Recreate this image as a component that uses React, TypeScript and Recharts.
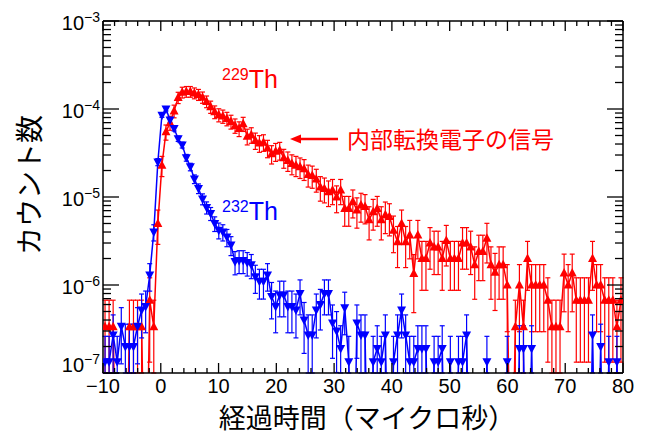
import { LineChart, Line, XAxis, YAxis, ErrorBar } from 'recharts'

const X_MIN = -10
const X_MAX = 80
const Y_MIN = 1e-7
const Y_MAX = 1e-3
const BIN_COUNT = 128
const BIN_WIDTH = (X_MAX - X_MIN) / BIN_COUNT
const UNIT = 1e-7
const FLOOR = 1e-9

// 229Th counts per bin, in units of 1e-7 (0 = empty bin)
const th229 = [
  3.36, 3.36, 3.36, 0, 0, 0, 3.36, 3.36, 3.36, 3.36,
  0, 6.7, 3.36, 50, 230, 550, 700, 950, 1350, 1550,
  1580, 1580, 1520, 1460, 1360, 1220, 1060, 930, 860, 830,
  780, 720, 650, 600, 680, 490, 510, 440, 410, 420,
  360, 310, 330, 340, 280, 260, 240, 230, 220, 210,
  180, 175, 160, 130, 125, 115, 120, 100, 120, 74,
  74, 89, 71, 81, 78, 55, 68, 74, 55, 63,
  60, 42, 31, 50, 31, 37, 13.5, 37, 20, 20,
  30, 27, 27, 20, 32, 20, 20, 20, 30, 30,
  27, 17, 24, 24, 34, 17, 14, 17, 17, 10,
  0, 3.36, 10, 3.36, 20, 10, 10, 10, 10, 6.7,
  3.36, 3.36, 3.36, 13.7, 10, 13.7, 6.7, 6.7, 6.7, 6.7,
  20, 10, 10, 6.7, 6.7, 6.7, 3.36, 6.7,
]

// 232Th counts per bin, in units of 1e-7 (0 = empty bin)
const th232 = [
  1.34, 1.34, 2.7, 1.34, 3.4, 2.0, 2.0, 2.0, 3.4, 5.2,
  5.7, 13, 40, 250, 850, 1000, 750, 600, 460, 390,
  280, 220, 160, 125, 95, 76, 65, 50, 42, 40,
  35, 28.5, 18.5, 19, 19, 18, 17, 12.4, 11, 11,
  13, 7.4, 5.7, 7.7, 7.7, 5.7, 5.7, 5.2, 8, 4,
  2.7, 2.7, 5.2, 6, 8, 8, 3.7, 3, 1.9, 5.5,
  1.34, 0, 3.7, 2.7, 2.7, 0, 1.34, 1.9, 1.34, 2.7,
  0, 1.34, 2.7, 5.2, 2.7, 1.34, 1.34, 1.9, 1.9, 1.9,
  0, 1.34, 1.34, 1.9, 0, 1.34, 0, 1.34, 1.34, 2.7,
  0, 0, 0, 0, 1.34, 0, 0, 0, 0, 1.34,
  0, 0, 1.9, 1.9, 0, 1.9, 0, 0, 0, 0,
  0, 0, 0, 0, 0, 0, 0, 0, 0, 0,
  2.7, 0, 2.0, 0, 1.34, 0, 1.34, 0,
]

const X_TICKS = [
  -10, -8, -6, -4, -2, 0, 2, 4, 6, 8, 10, 12, 14, 16, 18, 20, 22, 24, 26, 28,
  30, 32, 34, 36, 38, 40, 42, 44, 46, 48, 50, 52, 54, 56, 58, 60, 62, 64, 66,
  68, 70, 72, 74, 76, 78, 80,
]

const Y_TICKS = [
  1e-7, 2e-7, 3e-7, 4e-7, 5e-7, 6e-7, 7e-7, 8e-7, 9e-7,
  1e-6, 2e-6, 3e-6, 4e-6, 5e-6, 6e-6, 7e-6, 8e-6, 9e-6,
  1e-5, 2e-5, 3e-5, 4e-5, 5e-5, 6e-5, 7e-5, 8e-5, 9e-5,
  1e-4, 2e-4, 3e-4, 4e-4, 5e-4, 6e-4, 7e-4, 8e-4, 9e-4,
  1e-3,
]

// error bar size seen at the one-count level, and how it grows with the value
const TH229_ERR = { ref: 3.36e-7, err: 3.36e-7, power: 0.68 }
const TH232_ERR = { ref: 1.34e-7, err: 1.27e-7, power: 0.555 }

const RED = '#ff0000'
const BLUE = '#0000ff'
const FONT = '"Liberation Sans", Arial, sans-serif'
const JP_FONT = '"Noto Sans CJK JP", sans-serif'

// error bars are cut at the frame, as in the original plot
function errorBar(v: number, m: { ref: number; err: number; power: number }) {
  const e = m.err * Math.pow(v / m.ref, m.power)
  const low = Math.max(v - e, Y_MIN)
  const high = Math.min(v + e, Y_MAX)
  return [v - low, high - v]
}

const data = th229.map((r, i) => {
  const b = th232[i]
  return {
    x: X_MIN + (i + 0.5) * BIN_WIDTH,
    th229: r > 0 ? r * UNIT : FLOOR,
    th232: b > 0 ? b * UNIT : FLOOR,
    th229Err: r > 0 ? errorBar(r * UNIT, TH229_ERR) : null,
    th232Err: b > 0 ? errorBar(b * UNIT, TH232_ERR) : null,
  }
})

const isDecade = (v: number) =>
  Math.abs(Math.log10(v) - Math.round(Math.log10(v))) < 1e-6

function BottomTick(props: any) {
  const { x, y, payload } = props
  const v = payload.value
  const major = v % 10 === 0
  return (
    <g>
      <line x1={x} x2={x} y1={y} y2={y - (major ? 10 : 5)} stroke="#000" strokeWidth={1.3} />
      {major && (
        <text x={x} y={y + 20} textAnchor="middle" fontSize={20} fontFamily={FONT} fill="#000">
          {v < 0 ? `\u2212${-v}` : v}
        </text>
      )}
    </g>
  )
}

function TopTick(props: any) {
  const { x, y, payload } = props
  const major = payload.value % 10 === 0
  return <line x1={x} x2={x} y1={y} y2={y + (major ? 10 : 5)} stroke="#000" strokeWidth={1.3} />
}

function LeftTick(props: any) {
  const { x, y, payload } = props
  const v = payload.value
  const major = isDecade(v)
  const exp = Math.round(Math.log10(v))
  const base = exp === -7 ? y - 1 : y + 9
  return (
    <g>
      <line x1={x} x2={x + (major ? 16 : 8)} y1={y} y2={y} stroke="#000" strokeWidth={1.3} />
      {major && (
        <text x={x - 3} y={base} textAnchor="end" fontFamily={FONT} fill="#000">
          <tspan fontSize={20}>10</tspan>
          <tspan fontSize={14} dy={-8.5}>{`\u2212${-exp}`}</tspan>
        </text>
      )}
    </g>
  )
}

function RightTick(props: any) {
  const { x, y, payload } = props
  const major = isDecade(payload.value)
  return <line x1={x} x2={x - (major ? 16 : 8)} y1={y} y2={y} stroke="#000" strokeWidth={1.3} />
}

function upTriangle(props: any) {
  const { cx, cy, index, payload } = props
  if (payload.th229 <= FLOOR || cx == null || cy == null) return <g key={`u${index}`} />
  return (
    <polygon
      key={`u${index}`}
      points={`${cx},${cy - 5} ${cx - 4.5},${cy + 3.5} ${cx + 4.5},${cy + 3.5}`}
      fill={RED}
    />
  )
}

function downTriangle(props: any) {
  const { cx, cy, index, payload } = props
  if (payload.th232 <= FLOOR || cx == null || cy == null) return <g key={`d${index}`} />
  return (
    <polygon
      key={`d${index}`}
      points={`${cx},${cy + 5} ${cx - 4.5},${cy - 3.5} ${cx + 4.5},${cy - 3.5}`}
      fill={BLUE}
    />
  )
}

const axisLine = { stroke: '#000', strokeWidth: 1.5 }

export default function App() {
  return (
    <div style={{ position: 'absolute', left: 0, top: 0, width: 649, height: 444, background: '#fff' }}>
      <LineChart width={649} height={444} data={data} margin={{ top: 0, right: 0, bottom: 0, left: 0 }}>
        <XAxis
          xAxisId="bottom"
          dataKey="x"
          type="number"
          domain={[X_MIN, X_MAX]}
          allowDataOverflow
          ticks={X_TICKS}
          interval={0}
          height={71}
          tickSize={0}
          tickMargin={0}
          tickLine={false}
          axisLine={axisLine}
          tick={<BottomTick />}
        />
        <XAxis
          xAxisId="top"
          orientation="top"
          dataKey="x"
          type="number"
          domain={[X_MIN, X_MAX]}
          allowDataOverflow
          ticks={X_TICKS}
          interval={0}
          height={21}
          tickSize={0}
          tickMargin={0}
          tickLine={false}
          axisLine={axisLine}
          tick={<TopTick />}
        />
        <YAxis
          yAxisId="left"
          scale="log"
          type="number"
          domain={[Y_MIN, Y_MAX]}
          allowDataOverflow
          ticks={Y_TICKS}
          interval={0}
          width={103}
          tickSize={0}
          tickMargin={0}
          tickLine={false}
          axisLine={axisLine}
          tick={<LeftTick />}
        />
        <YAxis
          yAxisId="right"
          orientation="right"
          scale="log"
          type="number"
          domain={[Y_MIN, Y_MAX]}
          allowDataOverflow
          ticks={Y_TICKS}
          interval={0}
          width={26}
          tickSize={0}
          tickMargin={0}
          tickLine={false}
          axisLine={axisLine}
          tick={<RightTick />}
        />
        <Line
          xAxisId="bottom"
          yAxisId="left"
          type="linear"
          dataKey="th229"
          stroke={RED}
          strokeWidth={1.5}
          dot={upTriangle}
          activeDot={false}
          isAnimationActive={false}
        >
          <ErrorBar dataKey="th229Err" direction="y" width={2.5} stroke={RED} strokeWidth={1.2} isAnimationActive={false} />
        </Line>
        <Line
          xAxisId="bottom"
          yAxisId="left"
          type="linear"
          dataKey="th232"
          stroke={BLUE}
          strokeWidth={1.5}
          dot={downTriangle}
          activeDot={false}
          isAnimationActive={false}
        >
          <ErrorBar dataKey="th232Err" direction="y" width={2.5} stroke={BLUE} strokeWidth={1.2} isAnimationActive={false} />
        </Line>
      </LineChart>
      <svg width={649} height={444} style={{ position: 'absolute', left: 0, top: 0, pointerEvents: 'none' }}>
        <text x={367} y={416} textAnchor="middle" dominantBaseline="central" fontSize={27} fontFamily={JP_FONT} fill="#000">
          経過時間（マイクロ秒）
        </text>
        <text
          x={28}
          y={185}
          transform="rotate(-90 28 185)"
          textAnchor="middle"
          dominantBaseline="central"
          fontSize={28}
          fontFamily={JP_FONT}
          fill="#000"
        >
          カウント数
        </text>
        <text x={222} y={88} fontFamily={FONT} fill={RED}>
          <tspan fontSize={16} dy={-8}>229</tspan>
          <tspan fontSize={25} dy={8}>Th</tspan>
        </text>
        <text x={222} y={220} fontFamily={FONT} fill={BLUE}>
          <tspan fontSize={16} dy={-8}>232</tspan>
          <tspan fontSize={25} dy={8}>Th</tspan>
        </text>
        <line x1={299} y1={139} x2={338} y2={139} stroke={RED} strokeWidth={2.5} />
        <polygon points="290,139 301,134.5 301,143.5" fill={RED} />
        <text x={347} y={138} dominantBaseline="central" fontSize={23} fontFamily={JP_FONT} fill={RED}>
          内部転換電子の信号
        </text>
      </svg>
    </div>
  )
}
